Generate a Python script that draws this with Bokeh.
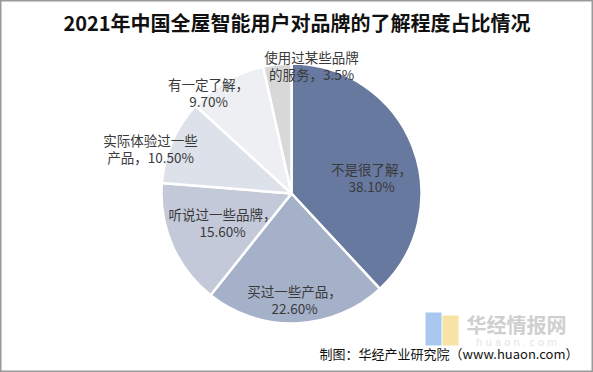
import numpy as np
from bokeh.plotting import figure
from bokeh.models import ColumnDataSource
from bokeh.core.properties import value
from bokeh.embed import file_html
from bokeh.resources import INLINE

title = "2021年中国全屋智能用户对品牌的了解程度占比情况"
categories = ["不是很了解", "买过一些产品", "听说过一些品牌", "实际体验过一些产品", "有一定了解", "使用过某些品牌的服务"]
shares = [38.10, 22.60, 15.60, 10.50, 9.70, 3.5]
label_line1 = ["不是很了解，", "买过一些产品，", "听说过一些品牌，", "实际体验过一些", "有一定了解，", "使用过某些品牌"]
label_line2 = ["38.10%", "22.60%", "15.60%", "产品，10.50%", "9.70%", "的服务，3.5%"]
colors = ["#6879a0", "#a5b0c9", "#c3c9d9", "#dde1ea", "#eeeff2", "#d8d8d8"]
source_note = "制图：华经产业研究院（www.huaon.com）"

# layout
W, H = 593, 372
cx, cy, R = 291, H - 193, 130
# label centers (pixel offsets from pie centre, x right, y up)
label_offsets = [(80, 16), (3, -106), (-69, -29), (-141, 45), (-83, 101), (20, 128)]

p = figure(width=W, height=H, x_range=(0, W), y_range=(0, H),
           output_backend="svg", toolbar_location=None, min_border=0)
p.axis.visible = False
p.grid.visible = False
p.background_fill_color = "white"
p.border_fill_color = "white"
p.outline_line_color = "#9a9a9a"
p.outline_line_width = 2

frac = np.array(shares) / np.sum(shares)
cum = np.concatenate([[0], np.cumsum(frac)])
start = np.pi / 2 - cum[:-1] * 2 * np.pi
end = np.pi / 2 - cum[1:] * 2 * np.pi

src = ColumnDataSource(dict(start=start, end=end, color=colors, cat=categories))
p.wedge(x=cx, y=cy, radius=R, start_angle="start", end_angle="end", direction="clock",
        fill_color="color", line_color="white", line_width=2.5, source=src)

lx = [cx + o[0] for o in label_offsets]
ly = [cy + o[1] for o in label_offsets]
font = value("Noto Sans CJK SC")
p.text(x=lx, y=[y + 8.5 for y in ly], text=label_line1, text_font=font, text_font_size="13.5px",
       text_color="#3a3a3a", text_align="center", text_baseline="middle")
p.text(x=lx, y=[y - 8.5 for y in ly], text=label_line2, text_font=font, text_font_size="13.5px",
       text_color="#3a3a3a", text_align="center", text_baseline="middle")

# title
p.text(x=[W / 2], y=[H - 22], text=[title], text_font=font, text_font_size="20px",
       text_font_style="bold", text_color="#111111", text_align="center", text_baseline="middle")

# watermark
p.quad(left=[425], right=[441], bottom=[H - 345], top=[H - 312], fill_color="#a9c8ef", line_color=None)
p.quad(left=[442], right=[458], bottom=[H - 345], top=[H - 315], fill_color="#f7e3a3", line_color=None)
p.text(x=[516], y=[H - 324], text=["华经情报网"], text_font=font, text_font_size="20px",
       text_font_style="bold", text_color="#cfcfcf", text_align="center", text_baseline="middle")
p.text(x=[516], y=[H - 342], text=["h u a o n . c o m"], text_font=value("DejaVu Sans"), text_font_size="10px",
       text_color="#e3e3e3", text_align="center", text_baseline="middle")

# source note
p.text(x=[578], y=[H - 353], text=[source_note], text_font=font, text_font_size="13px",
       text_color="#111111", text_align="right", text_baseline="middle")

open("out.html", "w").write(file_html(p, INLINE))
